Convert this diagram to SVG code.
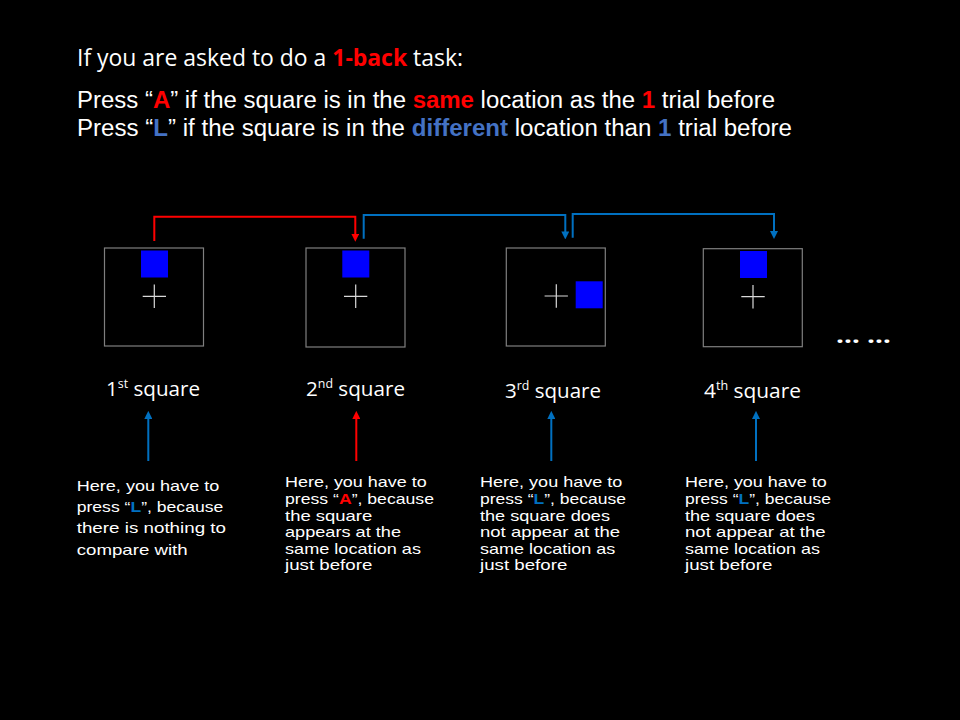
<svg xmlns="http://www.w3.org/2000/svg" width="960" height="720" viewBox="0 0 960 720">
  <style>
    .txt { font-family: "Open Sans", "Liberation Sans", sans-serif; fill: #ffffff; }
    .head { font-size: 23px; }
    .rule { font-family: "Liberation Sans", "Open Sans", sans-serif; font-size: 23px; }
    .lbl { font-size: 20px; }
    .desc { font-family: "Liberation Sans", "Open Sans", sans-serif; font-size: 14.3px; }
    .sup { font-size: 12px; }
    .red { fill: #ff0000; font-weight: bold; }
    .blu { fill: #4472c4; font-weight: bold; }
    .blu2 { fill: #0070c0; font-weight: bold; }
    .frame { fill: none; stroke: #7f7f7f; stroke-width: 1.2; }
    .cross { stroke: #d9d9d9; stroke-width: 1.2; }
    .sq { fill: #0000ff; }
    .lr { fill: none; stroke: #ff0000; stroke-width: 2; }
    .lb { fill: none; stroke: #0070c0; stroke-width: 2; }
  </style>
  <defs>
    <marker id="headR" viewBox="0 0 10 10" refX="2" refY="5" markerWidth="8" markerHeight="8" markerUnits="userSpaceOnUse" orient="auto">
      <path d="M0,0 L10,5 L0,10 z" fill="#ff0000"/>
    </marker>
    <marker id="headB" viewBox="0 0 10 10" refX="2" refY="5" markerWidth="8" markerHeight="8" markerUnits="userSpaceOnUse" orient="auto">
      <path d="M0,0 L10,5 L0,10 z" fill="#0070c0"/>
    </marker>
  </defs>
  <rect width="960" height="720" fill="#000000"/>

  <!-- instructions -->
  <g id="instructions">
    <text class="txt head" x="77" y="66" textLength="386" lengthAdjust="spacingAndGlyphs">If you are asked to do a <tspan class="red">1-back</tspan> task:</text>
    <text class="txt rule" x="77" y="108" textLength="698" lengthAdjust="spacingAndGlyphs">Press “<tspan class="red">A</tspan>” if the square is in the <tspan class="red">same</tspan> location as the <tspan class="red">1</tspan> trial before</text>
    <text class="txt rule" x="77" y="136" textLength="715" lengthAdjust="spacingAndGlyphs">Press “<tspan class="blu">L</tspan>” if the square is in the <tspan class="blu">different</tspan> location than <tspan class="blu">1</tspan> trial before</text>
  </g>

  <!-- trial frames -->
  <g id="trial1">
    <rect class="frame" x="104.5" y="248" width="99" height="98"/>
    <rect class="sq" x="141" y="250.5" width="27" height="27"/>
    <path class="cross" d="M142.7,296.3 H166 M154.3,284.6 V308"/>
  </g>
  <g id="trial2">
    <rect class="frame" x="306" y="248" width="99" height="99"/>
    <rect class="sq" x="342.3" y="250.5" width="27" height="27"/>
    <path class="cross" d="M344,296.3 H367.3 M355.7,284.6 V308"/>
  </g>
  <g id="trial3">
    <rect class="frame" x="506.3" y="248" width="99" height="98"/>
    <rect class="sq" x="575.7" y="281.3" width="27" height="27"/>
    <path class="cross" d="M544.6,296 H567.9 M556.3,284.3 V307.7"/>
  </g>
  <g id="trial4">
    <rect class="frame" x="703.3" y="248.7" width="99" height="98"/>
    <rect class="sq" x="740" y="251" width="27" height="27"/>
    <path class="cross" d="M741.3,296.7 H764.7 M753,285 V308.4"/>
  </g>
  <g id="more">
    <text class="txt" x="836" y="343" font-size="22" font-weight="bold" textLength="55" lengthAdjust="spacingAndGlyphs">… …</text>
  </g>

  <!-- labels -->
  <g id="label1" class="txt lbl">
    <text x="106" y="395.5" textLength="94" lengthAdjust="spacingAndGlyphs">1<tspan class="sup" dy="-8">st</tspan><tspan dy="8"> square</tspan></text>
  </g>
  <g id="label2" class="txt lbl">
    <text x="306" y="395.5" textLength="99" lengthAdjust="spacingAndGlyphs">2<tspan class="sup" dy="-8">nd</tspan><tspan dy="8"> square</tspan></text>
  </g>
  <g id="label3" class="txt lbl">
    <text x="505" y="398.3" textLength="96" lengthAdjust="spacingAndGlyphs">3<tspan class="sup" dy="-8">rd</tspan><tspan dy="8"> square</tspan></text>
  </g>
  <g id="label4" class="txt lbl">
    <text x="704" y="398.3" textLength="97" lengthAdjust="spacingAndGlyphs">4<tspan class="sup" dy="-8">th</tspan><tspan dy="8"> square</tspan></text>
  </g>

  <!-- explanations -->
  <g id="note1" class="txt desc">
    <text x="76.7" y="490.7" textLength="142.6" lengthAdjust="spacingAndGlyphs">Here, you have to</text>
    <text x="76.7" y="512" textLength="146.6" lengthAdjust="spacingAndGlyphs">press “<tspan class="blu2">L</tspan>”, because</text>
    <text x="76.7" y="533.3" textLength="149.3" lengthAdjust="spacingAndGlyphs">there is nothing to</text>
    <text x="76.7" y="554.7" textLength="111" lengthAdjust="spacingAndGlyphs">compare with</text>
  </g>
  <g id="note2" class="txt desc">
    <text x="285" y="487.3" textLength="141.7" lengthAdjust="spacingAndGlyphs">Here, you have to</text>
    <text x="285" y="504" textLength="149" lengthAdjust="spacingAndGlyphs">press “<tspan class="red">A</tspan>”, because</text>
    <text x="285" y="520.6" textLength="87.3" lengthAdjust="spacingAndGlyphs">the square</text>
    <text x="285" y="537.2" textLength="116" lengthAdjust="spacingAndGlyphs">appears at the</text>
    <text x="285" y="553.8" textLength="136" lengthAdjust="spacingAndGlyphs">same location as</text>
    <text x="285" y="570.4" textLength="87.3" lengthAdjust="spacingAndGlyphs">just before</text>
  </g>
  <g id="note3" class="txt desc">
    <text x="480" y="487.3" textLength="142.3" lengthAdjust="spacingAndGlyphs">Here, you have to</text>
    <text x="480" y="504" textLength="146" lengthAdjust="spacingAndGlyphs">press “<tspan class="blu2">L</tspan>”, because</text>
    <text x="480" y="520.6" textLength="130" lengthAdjust="spacingAndGlyphs">the square does</text>
    <text x="480" y="537.2" textLength="140" lengthAdjust="spacingAndGlyphs">not appear at the</text>
    <text x="480" y="553.8" textLength="135.3" lengthAdjust="spacingAndGlyphs">same location as</text>
    <text x="480" y="570.4" textLength="87.3" lengthAdjust="spacingAndGlyphs">just before</text>
  </g>
  <g id="note4" class="txt desc">
    <text x="685" y="487.3" textLength="141.7" lengthAdjust="spacingAndGlyphs">Here, you have to</text>
    <text x="685" y="504" textLength="146" lengthAdjust="spacingAndGlyphs">press “<tspan class="blu2">L</tspan>”, because</text>
    <text x="685" y="520.6" textLength="130" lengthAdjust="spacingAndGlyphs">the square does</text>
    <text x="685" y="537.2" textLength="140.7" lengthAdjust="spacingAndGlyphs">not appear at the</text>
    <text x="685" y="553.8" textLength="135" lengthAdjust="spacingAndGlyphs">same location as</text>
    <text x="685" y="570.4" textLength="87.3" lengthAdjust="spacingAndGlyphs">just before</text>
  </g>

  <!-- connectors -->
  <g id="connectors">
    <path class="lr" d="M154.3,241 V216.7 H355.3 V235.3" marker-end="url(#headR)"/>
    <path class="lb" d="M363.7,238.7 V215 H565.3 V233" marker-end="url(#headB)"/>
    <path class="lb" d="M572.7,237.7 V214 H774 V232.6" marker-end="url(#headB)"/>
    <path class="lb" d="M148.3,461 V417.3" marker-end="url(#headB)"/>
    <path class="lr" d="M356.3,461 V417.3" marker-end="url(#headR)"/>
    <path class="lb" d="M551.3,461 V417.3" marker-end="url(#headB)"/>
    <path class="lb" d="M756,461 V417.3" marker-end="url(#headB)"/>
  </g>
</svg>
